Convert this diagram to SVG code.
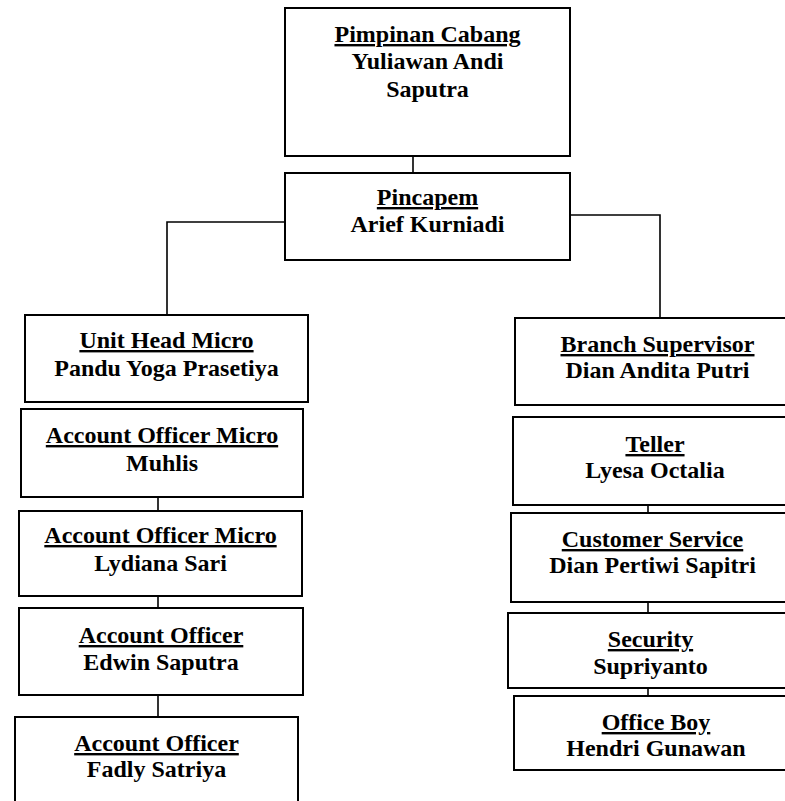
<svg xmlns="http://www.w3.org/2000/svg" width="785" height="801" viewBox="0 0 785 801">
<style>
.box{fill:#fff;stroke:#000;stroke-width:2}
.c{fill:none;stroke:#000;stroke-width:1.6}
text{font-family:"Liberation Serif","Times New Roman",serif;font-weight:bold;font-size:24px;fill:#000;text-anchor:middle}
.u{text-decoration:underline}
</style>
<rect width="785" height="801" fill="#fff"/>
<g id="connectors">
<line class="c" x1="413" y1="156" x2="413" y2="173"/>
<polyline class="c" points="285,222 167,222 167,315"/>
<polyline class="c" points="570,215 660,215 660,318"/>
<line class="c" x1="158" y1="497" x2="158" y2="511"/>
<line class="c" x1="158" y1="596" x2="158" y2="608"/>
<line class="c" x1="158" y1="695" x2="158" y2="717"/>
<line class="c" x1="648" y1="505" x2="648" y2="513"/>
<line class="c" x1="648" y1="602" x2="648" y2="613"/>
<line class="c" x1="648" y1="688" x2="648" y2="696"/>
</g>
<g id="pimpinan-cabang">
<rect class="box" x="285" y="8" width="285" height="148"/>
<text x="427.5" y="42" class="u">Pimpinan Cabang</text>
<text x="427.5" y="69">Yuliawan Andi</text>
<text x="427.5" y="97">Saputra</text>
</g>
<g id="pincapem">
<rect class="box" x="285" y="173" width="285" height="87"/>
<text x="427.5" y="205" class="u">Pincapem</text>
<text x="427.5" y="232">Arief Kurniadi</text>
</g>
<g id="unit-head-micro">
<rect class="box" x="25" y="315" width="283" height="87"/>
<text x="166.5" y="348" class="u">Unit Head Micro</text>
<text x="166.5" y="376">Pandu Yoga Prasetiya</text>
</g>
<g id="ao-micro-muhlis">
<rect class="box" x="21" y="409" width="282" height="88"/>
<text x="162" y="443" class="u">Account Officer Micro</text>
<text x="162" y="471">Muhlis</text>
</g>
<g id="ao-micro-lydiana">
<rect class="box" x="19" y="511" width="283" height="85"/>
<text x="160.5" y="543" class="u">Account Officer Micro</text>
<text x="160.5" y="571">Lydiana Sari</text>
</g>
<g id="ao-edwin">
<rect class="box" x="19" y="608" width="284" height="87"/>
<text x="161" y="643" class="u">Account Officer</text>
<text x="161" y="670">Edwin Saputra</text>
</g>
<g id="ao-fadly">
<rect class="box" x="15" y="717" width="283" height="100"/>
<text x="156.5" y="751" class="u">Account Officer</text>
<text x="156.5" y="777">Fadly Satriya</text>
</g>
<g id="branch-supervisor">
<rect class="box" x="515" y="318" width="285" height="87"/>
<text x="657.5" y="352" class="u">Branch Supervisor</text>
<text x="657.5" y="378">Dian Andita Putri</text>
</g>
<g id="teller">
<rect class="box" x="513" y="417" width="284" height="88"/>
<text x="655" y="452" class="u">Teller</text>
<text x="655" y="478">Lyesa Octalia</text>
</g>
<g id="customer-service">
<rect class="box" x="511" y="513" width="283" height="89"/>
<text x="652.5" y="547" class="u">Customer Service</text>
<text x="652.5" y="573">Dian Pertiwi Sapitri</text>
</g>
<g id="security">
<rect class="box" x="508" y="613" width="285" height="75"/>
<text x="650.5" y="647" class="u">Security</text>
<text x="650.5" y="674">Supriyanto</text>
</g>
<g id="office-boy">
<rect class="box" x="514" y="696" width="284" height="74"/>
<text x="656" y="730" class="u">Office Boy</text>
<text x="656" y="756">Hendri Gunawan</text>
</g>
</svg>
